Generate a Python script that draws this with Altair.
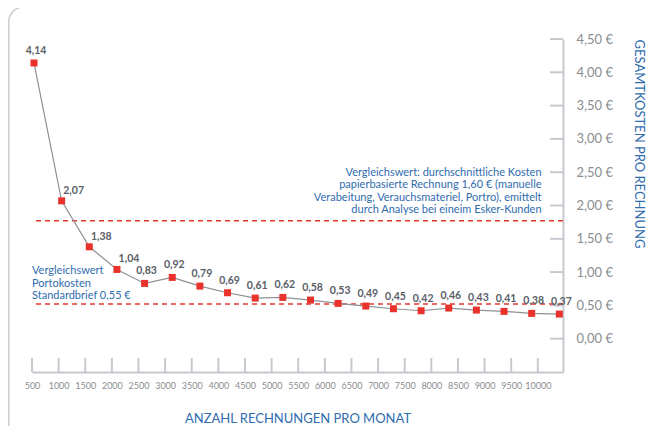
import altair as alt
import pandas as pd

# ---- data ----
invoices = [500, 1000, 1500, 2000, 2500, 3000, 3500, 4000, 4500, 5000,
            5500, 6000, 6500, 7000, 7500, 8000, 8500, 9000, 9500, 10000]
costs = [4.14, 2.07, 1.38, 1.04, 0.83, 0.92, 0.79, 0.69, 0.61, 0.62,
         0.58, 0.53, 0.49, 0.45, 0.42, 0.46, 0.43, 0.41, 0.38, 0.37]
x_ticks = invoices
y_ticks = [0.0, 0.5, 1.0, 1.5, 2.0, 2.5, 3.0, 3.5, 4.0, 4.5]
ref_values = [1.77, 0.52]
annot_x = [10070, 500]
annot_y = [1.77, 0.52]
annot_text = [
    ["Vergleichswert: durchschnittliche Kosten",
     "papierbasierte Rechnung 1,60 € (manuelle",
     "Verabeitung, Verauchsmateriel, Portro), emittelt",
     "durch Analyse bei eineim Esker-Kunden"],
    ["Vergleichswert", "Portokosten", "Standardbrief 0,55 €"],
]

FONT = "Lato"
BLUE = "#2f6cae"
RED = "#e8322b"
AXIS_GREY = "#c6cacf"

W, H = 531, 333

df = pd.DataFrame({"n": invoices, "cost": costs})
df["idx"] = range(len(df))
df["label"] = [f"{c:.2f}".replace(".", ",") for c in costs]

ticks_x_df = pd.DataFrame({"t": x_ticks})
ticks_y_df = pd.DataFrame({"v": y_ticks})
ref_df = pd.DataFrame({"v": ref_values})
annot_df = pd.DataFrame({"x": annot_x, "y": annot_y, "text": annot_text})

yscale = alt.Scale(domain=[-0.5, 4.5], nice=False, zero=False)
x_data_scale = alt.Scale(domain=[464, 10066], nice=False, zero=False)
x_tick_scale = alt.Scale(domain=[500, 10473], nice=False, zero=False)

y_axis = alt.Axis(
    orient="right", values=y_ticks, grid=False, ticks=False,
    domainColor=AXIS_GREY, domainWidth=2,
    labelExpr="replace(format(datum.value, '.2f'), '.', ',') + ' €'",
    labelFont=FONT, labelFontSize=13, labelColor="#8a8d91", labelPadding=13,
    title="GESAMTKOSTEN PRO RECHNUNG", titleFont=FONT, titleFontSize=13,
    titleFontWeight="normal", titleColor=BLUE, titleAngle=90,
    titleAnchor="end", titleAlign="left", titlePadding=19,
)
x_axis = alt.Axis(
    values=x_ticks, format="d", grid=False, ticks=False,
    domainColor=AXIS_GREY, domainWidth=2,
    labelFont=FONT, labelFontSize=9, labelColor="#8a8d91", labelPadding=9,
    labelFlush=False, labelOverlap=False, labelBound=False,
    title="ANZAHL RECHNUNGEN PRO MONAT", titleFont=FONT, titleFontSize=13,
    titleFontWeight="normal", titleColor=BLUE, titlePadding=22,
)


def Y(field):
    return alt.Y(field, scale=yscale, axis=y_axis)


# frame
frame = alt.Chart(pd.DataFrame({"a": [0]})).mark_rect(
    filled=False, stroke="#c9ced3", strokeWidth=1.5, cornerRadius=15
).encode(
    x=alt.value(-23.25), x2=alt.value(W + 140),
    y=alt.value(-32), y2=alt.value(H + 120),
)

# x ticks (inward) + x axis
xticks = alt.Chart(ticks_x_df).mark_rule(color=AXIS_GREY, strokeWidth=2).encode(
    x=alt.X("t:Q", scale=x_tick_scale, axis=x_axis),
    y=alt.value(H - 14), y2=alt.value(H),
)

# y ticks (inward) + y axis
yticks = alt.Chart(ticks_y_df).mark_rule(color=AXIS_GREY, strokeWidth=2).encode(
    y=Y("v:Q"),
    x=alt.value(W - 13), x2=alt.value(W),
)

refs = alt.Chart(ref_df).mark_rule(
    color="#e5392f", strokeWidth=1.5, strokeDash=[5, 4]
).encode(y=Y("v:Q"))

annot_upper = alt.Chart(annot_df).transform_filter("datum.x > 5000").mark_text(
    align="right", baseline="top", font=FONT, fontSize=11, color=BLUE,
    lineHeight=12.5, dy=-54,
).encode(
    x=alt.X("x:Q", scale=x_tick_scale, axis=None),
    y=Y("y:Q"),
    text="text",
)
annot_lower = alt.Chart(annot_df).transform_filter("datum.x < 5000").mark_text(
    align="left", baseline="top", font=FONT, fontSize=11, color=BLUE,
    lineHeight=12.5, dy=-39,
).encode(
    x=alt.X("x:Q", scale=x_tick_scale, axis=None),
    y=Y("y:Q"),
    text="text",
)

base = alt.Chart(df).encode(
    x=alt.X("n:Q", scale=x_data_scale, axis=None),
    y=Y("cost:Q"),
)
line = base.mark_line(color="#8d9197", strokeWidth=1.2)
pts = base.mark_square(color=RED, size=49, opacity=1)
labels_main = base.transform_filter("datum.idx < 1 || datum.idx > 3").mark_text(
    font=FONT, fontSize=10.5, fontWeight="bold", color="#596068",
    baseline="middle", dx=2, dy=-12,
).encode(text="label:N")
labels_steep = base.transform_filter("datum.idx >= 1 && datum.idx <= 3").mark_text(
    font=FONT, fontSize=10.5, fontWeight="bold", color="#596068",
    baseline="middle", dx=12, dy=-10,
).encode(text="label:N")

chart = alt.layer(
    frame, xticks, yticks, refs, annot_upper, annot_lower,
    line, pts, labels_main, labels_steep,
).resolve_scale(x="independent").properties(
    width=W, height=H,
    autosize=alt.AutoSizeParams(type="none"),
    padding={"left": 24, "top": 31, "right": 85, "bottom": 54},
).configure_view(stroke=None)

chart.save("out.html", embed_options={"renderer": "svg", "actions": False})
